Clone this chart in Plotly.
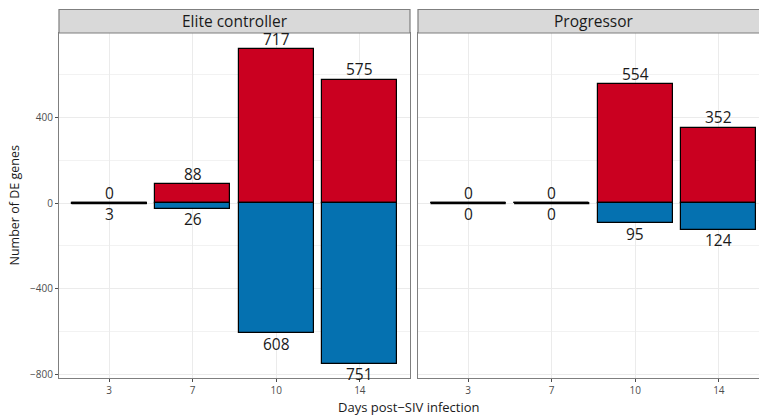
import plotly.graph_objects as go

# Days post infection (categories) and DE gene counts per group
days = ["3", "7", "10", "14"]
elite_up = [0, 88, 717, 575]
elite_down = [3, 26, 608, 751]
prog_up = [0, 0, 554, 352]
prog_down = [0, 0, 95, 124]

groups = ["Elite controller", "Progressor"]

RED = "#ca0020"
BLUE = "#0571b0"
FONT = "Open Sans"
BAR_W = 0.9

pos = list(range(1, len(days) + 1))

fig = go.Figure()

def add_panel(up, down, xa, ya):
    neg = [-d for d in down]
    fig.add_trace(go.Bar(x=pos, y=up, width=BAR_W, marker=dict(color=RED, line=dict(color="black", width=1.2)),
                         xaxis=xa, yaxis=ya, showlegend=False, hoverinfo="skip"))
    fig.add_trace(go.Bar(x=pos, y=neg, width=BAR_W, marker=dict(color=BLUE, line=dict(color="black", width=1.2)),
                         xaxis=xa, yaxis=ya, showlegend=False, hoverinfo="skip"))
    # zero-height bars are shown as a flat outline
    lx, ly = [], []
    for p, u, d in zip(pos, up, down):
        if u == 0 or d == 0:
            lx += [p - BAR_W / 2, p + BAR_W / 2, None]
            ly += [0, 0, None]
    if lx:
        fig.add_trace(go.Scatter(x=lx, y=ly, mode="lines", line=dict(color="black", width=2.2),
                                 xaxis=xa, yaxis=ya, showlegend=False, hoverinfo="skip"))
    # count labels above (up) and below (down) each bar
    lab = dict(family=FONT, size=15.5, color="#1a1a1a")
    for p, u, d in zip(pos, up, down):
        fig.add_annotation(text=str(u), xref=xa, yref=ya, x=p, y=u, yshift=10.5, yanchor="middle",
                           showarrow=False, font=lab, borderpad=0)
        fig.add_annotation(text=str(d), xref=xa, yref=ya, x=p, y=-d, yshift=-10.5, yanchor="middle",
                           showarrow=False, font=lab, borderpad=0)

add_panel(elite_up, elite_down, "x", "y")
add_panel(prog_up, prog_down, "x2", "y2")

W, H = 759, 417
ML, MR, MT, MB = 59, 0, 33, 39
pw = W - ML - MR
ph = H - MT - MB
d1 = (410 - ML) / pw
d2 = (418 - ML) / pw
unit = (410 - ML) / 4.2
r2_end = 0.4 + (W - 418) / unit

GRID = "#ebebeb"
BORDER = "#7f7f7f"
tickfont = dict(family=FONT, size=10, color="#4d4d4d")
yr = [-817, 794]

xcommon = dict(tickmode="array", tickvals=pos, ticktext=days, showgrid=True, gridcolor=GRID, gridwidth=1,
               zeroline=False, ticks="outside", ticklen=3, tickcolor="#4d4d4d", tickfont=tickfont,
               showline=True, linecolor=BORDER, linewidth=1.2, mirror=True)
ycommon = dict(range=yr, tickmode="array", tickvals=[-800, -400, 0, 400], ticktext=["\u2212800", "\u2212400", "0", "400"],
               showgrid=True, gridcolor=GRID, gridwidth=1, zeroline=False,
               minor=dict(tickmode="array", tickvals=[-600, -200, 200, 600], showgrid=True, gridcolor="#f2f2f2", gridwidth=1),
               showline=True, linecolor=BORDER, linewidth=1.2)

fig.update_layout(
    width=W, height=H, margin=dict(l=ML, r=MR, t=MT, b=MB),
    plot_bgcolor="white", paper_bgcolor="white", barmode="overlay", bargap=0,
    xaxis=dict(domain=[0, d1], range=[0.4, 4.6], anchor="y", **xcommon),
    xaxis2=dict(domain=[d2, 1], range=[0.4, r2_end], anchor="y2", **xcommon),
    yaxis=dict(domain=[0, 1], anchor="x", mirror=True, ticks="outside", ticklen=3, tickcolor="#4d4d4d",
               tickfont=tickfont, **ycommon),
    yaxis2=dict(domain=[0, 1], anchor="x2", mirror=False, ticks="", showticklabels=False, **ycommon),
)

# facet strips
strip_h = 23.5 / ph
fig.add_shape(type="rect", xref="x domain", yref="y domain", x0=0, x1=1, y0=1, y1=1 + strip_h,
              fillcolor="#d9d9d9", line=dict(color=BORDER, width=1.2), layer="above")
fig.add_shape(type="rect", xref="x2 domain", yref="y2 domain", x0=0, x1=1.05, y0=1, y1=1 + strip_h,
              fillcolor="#d9d9d9", line=dict(color=BORDER, width=1.2), layer="above")
fig.add_annotation(text=groups[0], xref="x", yref="y domain", x=2.5, y=1 + strip_h / 2, showarrow=False,
                   font=dict(family=FONT, size=15.5, color="#1a1a1a"), yanchor="middle")
fig.add_annotation(text=groups[1], xref="x2", yref="y2 domain", x=2.5, y=1 + strip_h / 2, showarrow=False,
                   font=dict(family=FONT, size=15.5, color="#1a1a1a"), yanchor="middle")

# axis titles
fig.add_annotation(text="Days post\u2212SIV infection", xref="paper", yref="paper", x=0.5, y=-29 / ph,
                   yanchor="middle", showarrow=False, font=dict(family=FONT, size=13, color="#1a1a1a"))
fig.add_annotation(text="Number of DE genes", xref="paper", yref="paper", x=(14 - ML) / pw, y=0.5,
                   textangle=-90, xanchor="center", yanchor="middle", showarrow=False,
                   font=dict(family=FONT, size=12.5, color="#1a1a1a"))

fig.write_html("out.html")
